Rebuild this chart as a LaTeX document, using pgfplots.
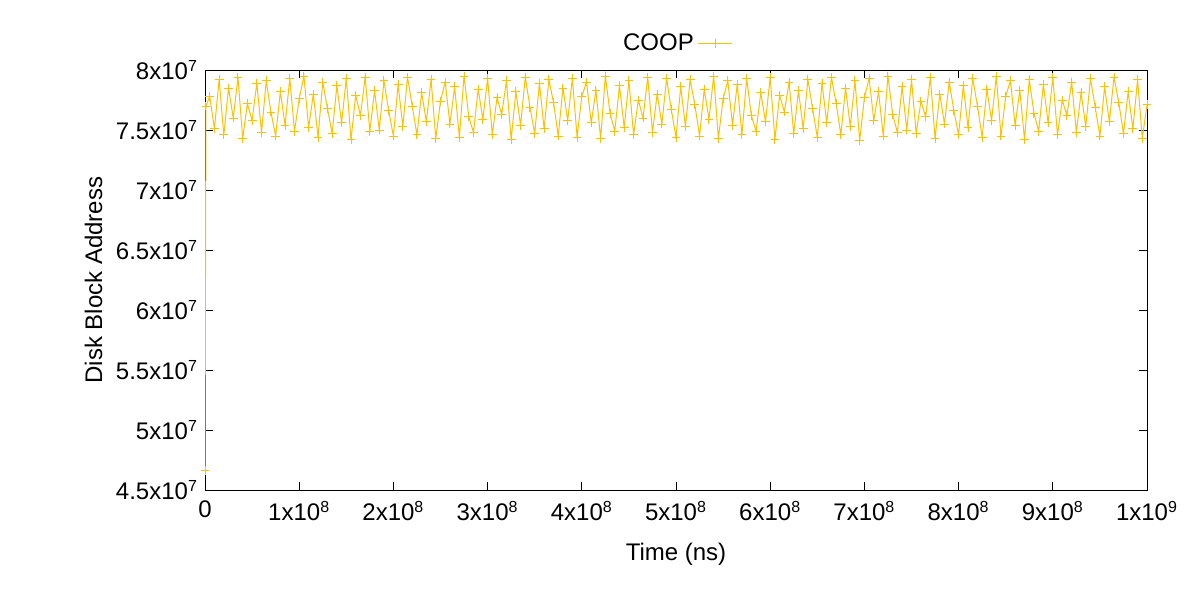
\documentclass[border=0pt]{standalone}
\usepackage{pgfplots}
\pgfplotsset{compat=1.18}
\usepackage{fontspec}
\setmainfont{Liberation Sans}
\definecolor{gy}{RGB}{255,192,0}
\pgfplotstableread{
x y
0 46.6
0.1 77.0
0.5 77.8
1.0 75.1
1.5 79.2
2.0 74.6
2.5 78.5
3.0 76.0
3.5 79.4
4.0 74.3
4.5 77.2
5.0 75.8
5.5 78.9
6.0 74.8
6.5 79.1
7.0 76.5
7.5 74.5
8.0 78.2
8.5 75.4
9.0 79.3
9.5 74.9
10.0 77.6
10.5 79.5
11.0 75.2
11.5 78.0
12.0 74.4
12.5 79.0
13.0 76.8
13.5 74.7
14.0 78.7
14.5 75.6
15.0 79.3
15.5 74.2
16.0 77.9
16.5 76.2
17.0 79.4
17.5 74.9
18.0 78.3
18.5 75.0
19.0 79.1
19.5 76.6
20.0 74.5
20.5 78.8
21.0 75.3
21.5 79.4
22.0 77.0
22.5 74.6
23.0 78.1
23.5 75.7
24.0 79.2
24.5 74.3
25.0 77.4
25.5 79.0
26.0 75.5
26.5 78.6
27.0 74.4
27.5 79.5
28.0 76.1
28.5 74.8
29.0 78.4
29.5 75.9
30.0 79.3
30.5 74.6
31.0 77.7
31.5 76.3
32.0 79.1
32.5 74.2
33.0 78.2
33.5 75.4
34.0 79.4
34.5 76.9
35.0 74.7
35.5 78.9
36.0 75.1
36.5 79.2
37.0 77.3
37.5 74.5
38.0 78.5
38.5 75.8
39.0 79.3
39.5 74.4
40.0 77.8
40.5 79.0
41.0 75.6
41.5 78.3
42.0 74.3
42.5 79.5
43.0 76.4
43.5 74.9
44.0 78.7
44.5 75.2
45.0 79.1
45.5 74.6
46.0 77.5
46.5 76.0
47.0 79.4
47.5 74.8
48.0 78.0
48.5 75.5
49.0 79.3
49.5 76.7
50.0 74.4
50.5 78.6
51.0 75.3
51.5 79.2
52.0 77.1
52.5 74.5
53.0 78.4
53.5 75.9
54.0 79.5
54.5 74.3
55.0 77.6
55.5 79.1
56.0 75.4
56.5 78.8
57.0 74.6
57.5 79.3
58.0 76.2
58.5 74.9
59.0 78.1
59.5 75.7
60.0 79.4
60.5 74.2
61.0 77.9
61.5 76.5
62.0 79.0
62.5 74.7
63.0 78.3
63.5 75.1
64.0 79.2
64.5 76.8
65.0 74.4
65.5 78.9
66.0 75.6
66.5 79.4
67.0 77.2
67.5 74.6
68.0 78.5
68.5 75.3
69.0 79.1
69.5 74.1
70.0 77.7
70.5 79.3
71.0 75.8
71.5 78.2
72.0 74.5
72.5 79.5
73.0 76.3
73.5 74.8
74.0 78.6
74.5 75.0
75.0 79.2
75.5 74.7
76.0 77.4
76.5 76.1
77.0 79.4
77.5 74.3
78.0 78.0
78.5 75.5
79.0 79.0
79.5 76.6
80.0 74.6
80.5 78.7
81.0 75.2
81.5 79.3
82.0 77.0
82.5 74.4
83.0 78.4
83.5 75.8
84.0 79.5
84.5 74.5
85.0 77.8
85.5 79.1
86.0 75.4
86.5 78.3
87.0 74.2
87.5 79.2
88.0 76.4
88.5 74.9
89.0 78.8
89.5 75.6
90.0 79.4
90.5 74.6
91.0 77.5
91.5 76.2
92.0 79.0
92.5 74.8
93.0 78.1
93.5 75.3
94.0 79.3
94.5 76.9
95.0 74.5
95.5 78.6
96.0 75.7
96.5 79.4
97.0 77.3
97.5 74.7
98.0 78.2
98.5 75.1
99.0 79.2
99.5 74.3
100.0 77.1
}\data
\begin{document}
\begin{tikzpicture}[x=1pt,y=1pt]
\useasboundingbox (0,0) rectangle (600,300);
\begin{axis}[
  at={(102.5pt,55pt)}, anchor=south west,
  scale only axis, width=471pt, height=210pt,
  xmin=0, xmax=100, ymin=45, ymax=80,
  xtick={0,10,...,100},
  xticklabels={0,1x10\textsuperscript{8},2x10\textsuperscript{8},3x10\textsuperscript{8},4x10\textsuperscript{8},5x10\textsuperscript{8},6x10\textsuperscript{8},7x10\textsuperscript{8},8x10\textsuperscript{8},9x10\textsuperscript{8},1x10\textsuperscript{9}},
  ytick={45,50,...,80},
  yticklabels={4.5x10\textsuperscript{7},5x10\textsuperscript{7},5.5x10\textsuperscript{7},6x10\textsuperscript{7},6.5x10\textsuperscript{7},7x10\textsuperscript{7},7.5x10\textsuperscript{7},8x10\textsuperscript{7}},
  tick align=inside, tick style={black, thin}, major tick length=4pt,
  axis line style={black, thin},
  tick label style={font=\fontsize{12}{14}\selectfont},
  xticklabel style={yshift=-2pt},
  label style={font=\fontsize{12}{14}\selectfont},
  xlabel={Time (ns)}, ylabel={Disk Block Address},
  xlabel style={yshift=-4pt},
  legend style={at={(0.5,1.02)}, anchor=south, draw=none, fill=none, font=\fontsize{12}{14}\selectfont},
  legend plot pos=right,
  legend cell align=right,
]
\addplot[gy, line width=0.5pt, mark=+, mark size=2.2pt, mark options={gy, line width=0.5pt}] table[x=x,y=y] {\data};
\addlegendentry{COOP}
\end{axis}
\end{tikzpicture}
\end{document}
